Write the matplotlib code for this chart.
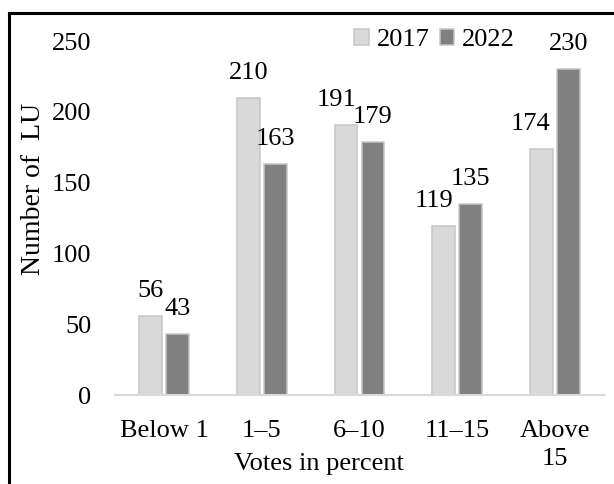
import matplotlib
matplotlib.use("Agg")
import matplotlib.pyplot as plt
from matplotlib.lines import Line2D
import numpy as np

plt.rcParams['font.family'] = ['Liberation Serif', 'DejaVu Serif']

# data
categories = ["Below 1", "1\u20135", "6\u201310", "11\u201315", "Above\n15"]
years = ["2017", "2022"]
lu_2017 = [56, 210, 191, 119, 174]
lu_2022 = [43, 163, 179, 135, 230]
y_ticks = [0, 50, 100, 150, 200, 250]

light = "#d9d9d9"
dark = "#808080"
edge = "#c6c6c6"
fs = 19

fig = plt.figure(figsize=(6.14, 4.84), dpi=100)
W, H = 614, 484
ax = fig.add_axes([115 / W, 1 - 395 / H, (604 - 115) / W, (395 - 41) / H])

x = np.arange(len(categories))
bw = 0.235
off = 0.138
b1 = ax.bar(x - off, lu_2017, bw, color=light, edgecolor=edge, linewidth=1.1, label=years[0])
b2 = ax.bar(x + off, lu_2022, bw, color=dark, edgecolor=edge, linewidth=1.1, label=years[1])

# value labels (some 2017 labels nudged left like the original)
nudge_2017 = [0, 0, -7, -7, -8]
for xi, v, dx in zip(x, lu_2017, nudge_2017):
    ax.annotate(str(v), (xi - off, v), xytext=(dx, 18), textcoords="offset points",
                ha="center", va="center", fontsize=fs)
for xi, v in zip(x, lu_2022):
    ax.annotate(str(v), (xi + off, v), xytext=(0, 18), textcoords="offset points",
                ha="center", va="center", fontsize=fs)

ax.set_xlim(-0.5, len(categories) - 0.5)
ax.set_ylim(0, 250)
ax.set_yticks(y_ticks)
ax.set_xticks(x)
ax.set_xticklabels(categories, fontsize=fs, linespacing=1.35, va="top")
ax.tick_params(axis="y", length=0, pad=17, labelsize=fs)
ax.tick_params(axis="x", length=0, pad=18)
for s in ["top", "right", "left"]:
    ax.spines[s].set_visible(False)
ax.spines["bottom"].set_color("#d9d9d9")
ax.spines["bottom"].set_linewidth(1.5)

fig.text(319 / W, 1 - 464 / H, "Votes in percent", ha="center", va="center", fontsize=fs)
fig.text(34 / W, 1 - 189 / H, "Number of  LU", ha="center", va="center", rotation=90, fontsize=fs + 1)

ax.legend(loc="center left", bbox_to_anchor=(354 / W, 1 - 40 / H), bbox_transform=fig.transFigure,
          ncol=2, frameon=False, fontsize=fs, handlelength=0.55, handleheight=0.55,
          handletextpad=0.3, columnspacing=0.4, borderpad=0, borderaxespad=0)

# frame of the original picture (left and top edges only)
fig.add_artist(Line2D([9 / W, 9 / W], [0, 1 - 13 / H], transform=fig.transFigure, color="black", lw=2.2))
fig.add_artist(Line2D([9 / W, 1], [1 - 13 / H, 1 - 13 / H], transform=fig.transFigure, color="black", lw=2.2))

fig.savefig("out.png", dpi=100)
